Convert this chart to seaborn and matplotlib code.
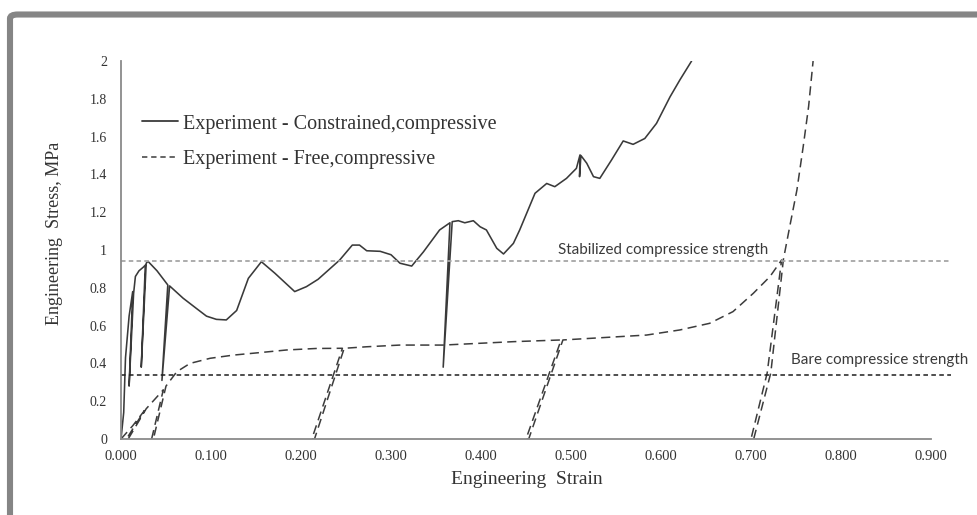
import matplotlib
matplotlib.use("Agg")
import matplotlib.pyplot as plt
from matplotlib.patches import FancyBboxPatch
from matplotlib.lines import Line2D
import seaborn as sns
import pandas as pd

# Constrained compressive test (solid): envelope with unload/reload loops
constrained_strain = [0.000, 0.003, 0.005, 0.009, 0.013, 0.009, 0.014, 0.016, 0.020,
                      0.025, 0.027, 0.0225, 0.028, 0.030, 0.040, 0.052, 0.0455, 0.054,
                      0.069, 0.084, 0.095, 0.106, 0.117, 0.1285, 0.1415, 0.156, 0.171,
                      0.193, 0.206, 0.219, 0.243, 0.257, 0.265, 0.273, 0.288, 0.300,
                      0.310, 0.323, 0.336, 0.354, 0.3655, 0.358, 0.368, 0.3748, 0.382,
                      0.3915, 0.399, 0.406, 0.4175, 0.425, 0.436, 0.443, 0.460, 0.473,
                      0.482, 0.495, 0.506, 0.510, 0.5095, 0.511, 0.5175, 0.525, 0.532,
                      0.545, 0.558, 0.569, 0.582, 0.595, 0.610, 0.621, 0.634]
constrained_stress = [0.00, 0.14, 0.43, 0.65, 0.78, 0.28, 0.77, 0.86, 0.89,
                      0.91, 0.92, 0.38, 0.93, 0.94, 0.89, 0.815, 0.31, 0.81,
                      0.745, 0.69, 0.65, 0.633, 0.63, 0.68, 0.85, 0.938, 0.877,
                      0.78, 0.806, 0.845, 0.947, 1.026, 1.026, 0.996, 0.993, 0.975,
                      0.93, 0.915, 0.99, 1.106, 1.144, 0.38, 1.15, 1.155, 1.144,
                      1.155, 1.123, 1.106, 1.009, 0.979, 1.035, 1.106, 1.30, 1.352,
                      1.335, 1.379, 1.432, 1.503, 1.388, 1.50, 1.459, 1.388, 1.379,
                      1.476, 1.577, 1.559, 1.59, 1.67, 1.81, 1.90, 2.00]

# Free compressive test (dashed): envelope with unload/reload loops
free_strain = [0.000, 0.013, 0.026, 0.006, 0.008, 0.028, 0.047, 0.034, 0.036, 0.050,
               0.062, 0.0767, 0.099, 0.125, 0.154, 0.184, 0.217, 0.246, 0.212, 0.215,
               0.248, 0.273, 0.310, 0.358, 0.436, 0.489, 0.450, 0.453, 0.491, 0.584,
               0.621, 0.654, 0.680, 0.7026, 0.721, 0.734, 0.718, 0.700, 0.703, 0.722,
               0.736, 0.743, 0.751, 0.758, 0.764, 0.769]
free_stress = [0.00, 0.07, 0.15, 0.00, 0.00, 0.16, 0.26, 0.00, 0.00, 0.28,
               0.356, 0.40, 0.427, 0.444, 0.457, 0.471, 0.479, 0.48, 0.00, 0.00,
               0.48, 0.488, 0.497, 0.497, 0.515, 0.524, 0.00, 0.00, 0.524, 0.55,
               0.577, 0.612, 0.674, 0.771, 0.859, 0.947, 0.35, 0.00, 0.00, 0.35,
               0.95, 1.123, 1.317, 1.547, 1.759, 2.00]

stabilized_strength = 0.94
bare_strength = 0.34
strength_line_end = 0.922

x_ticks = [0.0, 0.1, 0.2, 0.3, 0.4, 0.5, 0.6, 0.7, 0.8, 0.9]
x_tick_labels = ["0.000", "0.100", "0.200", "0.300", "0.400", "0.500", "0.600",
                 "0.700", "0.800", "0.900"]
y_ticks = [0, 0.2, 0.4, 0.6, 0.8, 1.0, 1.2, 1.4, 1.6, 1.8, 2.0]
y_tick_labels = ["0", "0.2", "0.4", "0.6", "0.8", "1", "1.2", "1.4", "1.6", "1.8", "2"]

label_constrained = "Experiment - Constrained,compressive"
label_free = "Experiment - Free,compressive"

sns.set_theme(style="white")
plt.rcParams["font.family"] = ["Liberation Serif", "DejaVu Serif"]

W, H = 977, 515
fig = plt.figure(figsize=(W / 100, H / 100), dpi=100)
fig.patch.set_facecolor("white")

ax_left, ax_right = 121, 953.5
ax_bottom, ax_top = 439, 61
ax_w, ax_h = ax_right - ax_left, ax_bottom - ax_top
ax = fig.add_axes([ax_left / W, 1 - ax_bottom / H, ax_w / W, ax_h / H])

df_c = pd.DataFrame({"strain": constrained_strain, "stress": constrained_stress})
df_f = pd.DataFrame({"strain": free_strain, "stress": free_stress})

sns.lineplot(data=df_c, x="strain", y="stress", sort=False, estimator=None,
             color="#3a3a3a", linewidth=1.15, ax=ax)
sns.lineplot(data=df_f, x="strain", y="stress", sort=False, estimator=None,
             color="#3c3c3c", linewidth=1.1, linestyle=(0, (6, 3.5)), ax=ax)

ax.hlines(stabilized_strength, 0, strength_line_end, colors="#a6a6a6",
          linewidth=1.3, linestyles=(0, (2.5, 1.8)))
ax.hlines(bare_strength, 0, strength_line_end, colors="#1e1e1e",
          linewidth=1.1, linestyles=(0, (3, 2.2)))

ax.text(0.486, 1.0, "Stabilized compressice strength", family="Lato",
        fontsize=10.9, color="#3a3a3a", va="center", ha="left")
ax.text(0.744, 0.42, "Bare compressice strength", family="Lato",
        fontsize=10.9, color="#3a3a3a", va="center", ha="left")

ax.set_xlim(0, ax_w / 900)
ax.set_ylim(0, 2)
ax.set_xticks(x_ticks)
ax.set_xticklabels(x_tick_labels)
ax.set_yticks(y_ticks)
ax.set_yticklabels(y_tick_labels)
ax.tick_params(axis="both", direction="in", length=4, width=1, color="#808080",
               labelcolor="#333333", pad=8)
ax.tick_params(axis="x", labelsize=10.5)
ax.tick_params(axis="y", labelsize=10, pad=10)

for side in ("top", "right"):
    ax.spines[side].set_visible(False)
for side in ("left", "bottom"):
    ax.spines[side].set_color("#8a8a8a")
    ax.spines[side].set_linewidth(1.3)
ax.spines["bottom"].set_bounds(0, 0.9)

ax.set_xlabel("Engineering  Strain", fontsize=14, color="#333333")
ax.set_ylabel("Engineering  Stress, MPa", fontsize=13, color="#333333")
ax.xaxis.set_label_coords((527 - ax_left) / ax_w, -(480 - ax_bottom) / ax_h)
ax.yaxis.set_label_coords(-(ax_left - 55) / ax_w, (ax_bottom - 233) / ax_h)
ax.xaxis.label.set_va("center")
ax.yaxis.label.set_va("center")

handles = [Line2D([], [], color="#3a3a3a", linewidth=1.3),
           Line2D([], [], color="#3c3c3c", linewidth=1.1, linestyle=(0, (3.5, 2.5)))]
leg = ax.legend(handles, [label_constrained, label_free], loc="upper left",
                bbox_to_anchor=(0.015, 0.88), frameon=False, fontsize=14.5,
                handlelength=1.8, handletextpad=0.25, labelspacing=0.8,
                borderaxespad=0)
for t in leg.get_texts():
    t.set_color("#333333")

# outer gray frame running off the right and bottom edges
frame = FancyBboxPatch((10 / W, -0.2), 1.2, (1 - 14.5 / H) + 0.2,
                       boxstyle="round,pad=0,rounding_size=0.008",
                       transform=fig.transFigure, facecolor="none",
                       edgecolor="#858585", linewidth=4.4)
fig.patches.append(frame)

fig.savefig("out.png", dpi=100, facecolor="white")
